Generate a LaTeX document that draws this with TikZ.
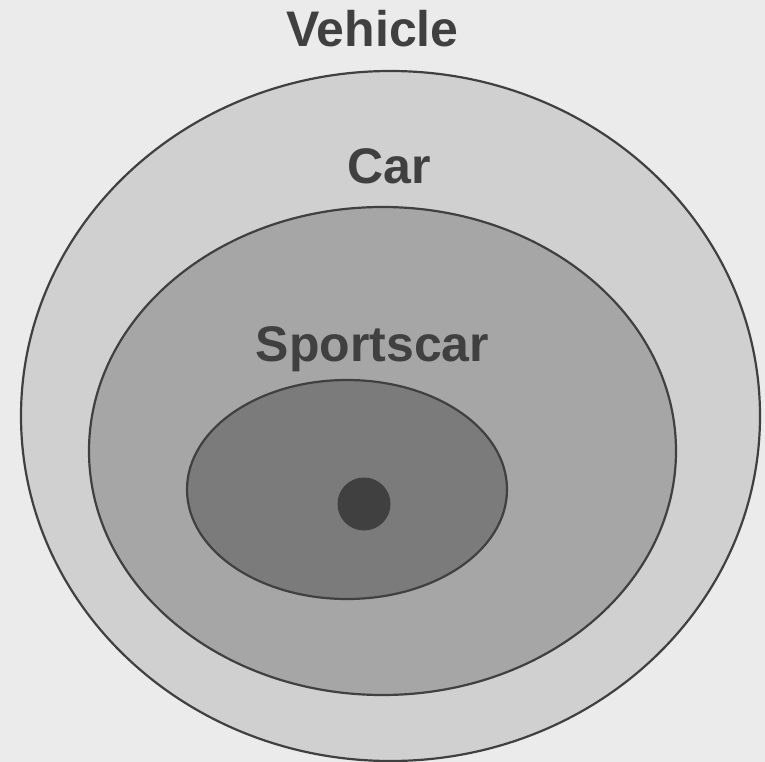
\documentclass[tikz,border=0pt]{standalone}
\usepackage{fontspec}
\setmainfont{Liberation Sans}
\definecolor{bgray}{RGB}{235,235,235}
\definecolor{vgray}{RGB}{208,208,208}
\definecolor{cgray}{RGB}{166,166,166}
\definecolor{sgray}{RGB}{123,123,123}
\definecolor{ink}{RGB}{64,64,64}
\usetikzlibrary{shapes.geometric}
\tikzset{
  set/.style={ellipse,draw=ink,line width=2.2pt,inner sep=0pt},
  setlabel/.style={anchor=base,text=ink,font=\bfseries\fontsize{50}{60}\selectfont}
}

\begin{document}
\begin{tikzpicture}[x=1pt,y=-1pt]
        \fill[bgray] (0,0) rectangle (765,762);
        \useasboundingbox (0,0) rectangle (765,762);
        \node[set,fill=vgray,minimum width=739pt,minimum height=690pt] (vehicle) at (390.5,416) {};
        \node[set,fill=cgray,minimum width=587pt,minimum height=488pt] (car) at (382.5,451) {};
        \node[set,fill=sgray,minimum width=320pt,minimum height=219pt] (sportscar) at (347,489.5) {};
        \node[circle,fill=ink,minimum size=53pt,inner sep=0pt] (element) at (364,504) {};
        \node[setlabel] (vehiclelabel) at (372.5,47) {Vehicle};
        \node[setlabel] (carlabel) at (389.5,184) {Car};
        \node[setlabel] (sportscarlabel) at (372.5,361) {Sportscar};
      \end{tikzpicture}
\end{document}
